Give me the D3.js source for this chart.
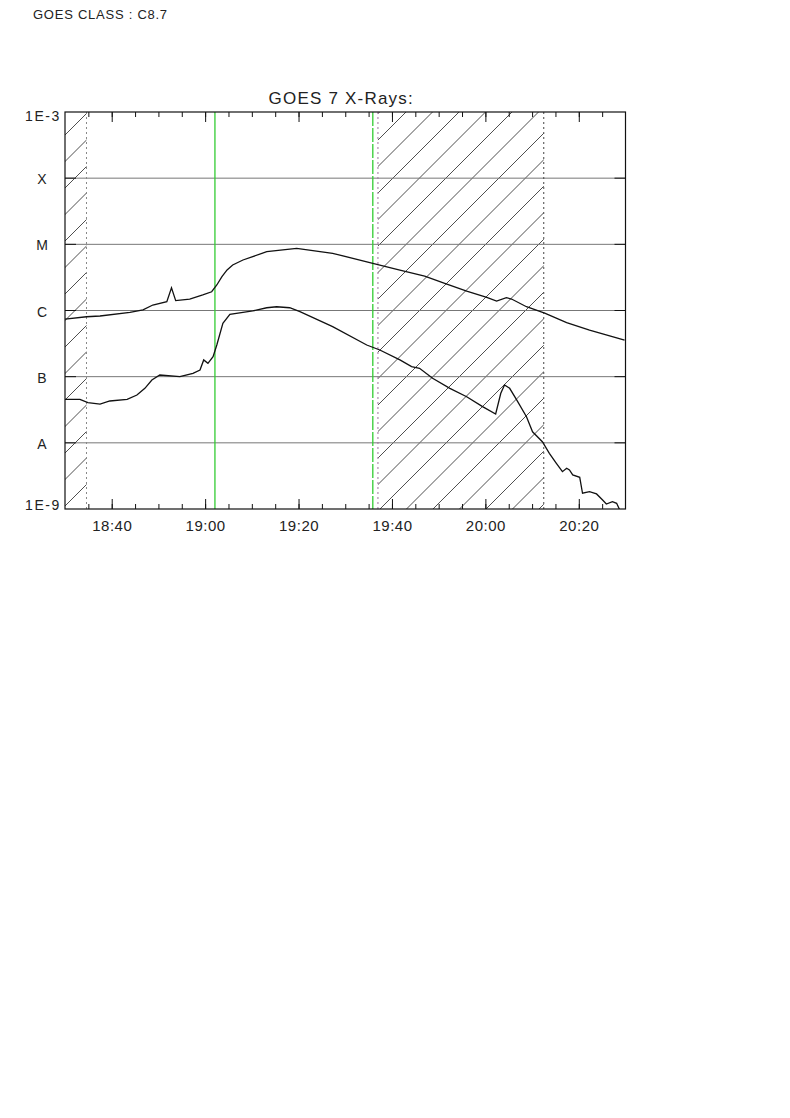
<!DOCTYPE html>
<html><head><meta charset="utf-8">
<script src="https://cdn.jsdelivr.net/npm/d3@7"></script>
<style>
body{margin:0;background:#fff;}
svg text{font-family:"Liberation Sans",Arial,sans-serif;fill:#222;}
</style></head>
<body><svg id="c" width="790" height="1118"></svg>
<script>
// ---- data ----
const chartTitle = "GOES 7 X-Rays:";
const classLabel = "GOES CLASS : C8.7";
// minutes after 18:30 and flux (W/m^2), long channel (1-8 A)
const longMinutes = [0,4.6,7.5,13.9,16.7,18.8,21.8,22.8,23.7,26.7,29.5,31.4,32.5,33.6,34.7,35.9,38.1,43.2,49.6,57.3,65.9,71.7,77.0,81.3,86.0,90.3,92.4,94.5,95.6,98.8,102.7,107.4,112.3,119.8];
const longFlux = [7.4e-7,8.05e-7,8.26e-7,9.4e-7,1.02e-6,1.21e-6,1.36e-6,2.21e-6,1.41e-6,1.49e-6,1.72e-6,1.92e-6,2.43e-6,3.24e-6,4.1e-6,4.87e-6,5.8e-6,7.74e-6,8.7e-6,7.32e-6,5.17e-6,4.09e-6,3.32e-6,2.58e-6,1.97e-6,1.58e-6,1.39e-6,1.56e-6,1.49e-6,1.14e-6,9.1e-7,6.55e-7,5.07e-7,3.58e-7];
// short channel (0.5-4 A)
const shortMinutes = [0,3.2,4.9,7.5,9.6,13.3,15.4,17.1,18.6,20.3,24.6,27.4,28.9,29.7,30.6,31.7,32.5,33.8,35.3,38.1,40.2,43.2,45.3,48.1,50.3,57.3,64.6,67.4,71.7,74.2,75.9,78.7,82.4,86.0,89.4,92.2,93.3,94.1,95.2,96.7,98.8,100.1,102.2,103.7,105.2,106.5,107.4,108.0,108.7,110.2,110.8,112.3,113.8,115.1,115.9,117.2,118.1,118.7];
const shortFlux = [4.55e-8,4.55e-8,4.05e-8,3.86e-8,4.29e-8,4.55e-8,5.28e-8,6.67e-8,8.9e-8,1.06e-7,1.0e-7,1.12e-7,1.26e-7,1.79e-7,1.59e-7,2.0e-7,3.01e-7,6.41e-7,8.77e-7,9.4e-7,9.84e-7,1.10e-6,1.14e-6,1.10e-6,9.6e-7,5.69e-7,3.01e-7,2.53e-7,1.79e-7,1.42e-7,1.34e-7,9.45e-8,6.67e-8,4.98e-8,3.52e-8,2.73e-8,5.61e-8,7.48e-8,6.67e-8,4.45e-8,2.48e-8,1.47e-8,1.04e-8,6.95e-9,4.91e-9,3.67e-9,4.12e-9,3.89e-9,3.27e-9,3.01e-9,1.73e-9,1.83e-9,1.69e-9,1.37e-9,1.19e-9,1.29e-9,1.22e-9,9.9e-10];
const yTickValues = [1e-9,1e-8,1e-7,1e-6,1e-5,1e-4,1e-3];
const yTickLabels = ["1E-9","A","B","C","M","X","1E-3"];
// shaded (hatched) intervals, minutes after 18:30
const hatchIntervals = [[0,4.6],[67.0,102.5]];
const nightEdge = 4.6, flareStart = 32.1, flareEnd = 65.9, dataGapStart = 67.0, dataGapEnd = 102.5;

// ---- layout ----
const svg = d3.select("#c");
const L = 65, R = 625.5, T = 112, B = 509;
const base = new Date(Date.UTC(1990,0,1,18,30));
const toDate = m => new Date(base.getTime() + m*60000);
const x = d3.scaleUtc().domain([toDate(0), toDate(120)]).range([L, R]);
const y = d3.scaleLog().domain([1e-9, 1e-3]).range([B, T]);

svg.append("text").attr("x",33).attr("y",19).attr("font-size",13).attr("letter-spacing",0.75).text(classLabel);
svg.append("text").attr("x",(L+R)/2-4).attr("y",104).attr("text-anchor","middle").attr("font-size",17).attr("letter-spacing",1.2).text(chartTitle);

svg.append("defs").append("clipPath").attr("id","plotclip").append("rect")
  .attr("x",L).attr("y",T).attr("width",R-L).attr("height",B-T);

// hatching
const hatch = svg.append("g").attr("clip-path","url(#plotclip)");
hatchIntervals.forEach((iv,i)=>{
  const x0 = x(toDate(iv[0])), x1 = x(toDate(iv[1]));
  const cid = "hc"+i;
  svg.select("defs").append("clipPath").attr("id",cid).append("rect")
    .attr("x",x0).attr("y",T).attr("width",x1-x0).attr("height",B-T);
  const g = hatch.append("g").attr("clip-path",`url(#${cid})`);
  for(let c=200-26.5*20; c<1400; c+=26.5){
    if (c < x0+T-30 || c > x1+B+30) continue;
    g.append("line").attr("x1",x0-5).attr("y1",c-(x0-5)).attr("x2",x1+5).attr("y2",c-(x1+5))
      .attr("stroke","#222").attr("stroke-width",0.8);
  }
});

// gridlines
svg.append("g").selectAll("line").data(yTickValues.slice(1,-1)).join("line")
  .attr("x1",L).attr("x2",R).attr("y1",d=>y(d)).attr("y2",d=>y(d))
  .attr("stroke","#777").attr("stroke-width",1);
// y ticks inward on both sides
svg.append("g").selectAll("line").data(yTickValues.slice(1,-1)).join("line")
  .attr("x1",L).attr("x2",L+11).attr("y1",d=>y(d)).attr("y2",d=>y(d)).attr("stroke","#111");
svg.append("g").selectAll("line").data(yTickValues.slice(1,-1)).join("line")
  .attr("x1",R-11).attr("x2",R).attr("y1",d=>y(d)).attr("y2",d=>y(d)).attr("stroke","#111");

// vertical markers
const vline = (m, color, dash, w) => svg.append("line")
  .attr("x1",x(toDate(m))).attr("x2",x(toDate(m))).attr("y1",T).attr("y2",B)
  .attr("stroke",color).attr("stroke-width",w||1).attr("stroke-dasharray",dash||null);
vline(nightEdge,"#888","2,3");
vline(flareStart,"#33cc33",null,1.3);
vline(flareEnd,"#33cc33","14,2",1.3);
vline(dataGapStart,"#a070a0","2,3");
vline(dataGapEnd,"#444","2,3");

// curves
const line = d3.line().x(d=>x(toDate(d[0]))).y(d=>y(d[1]));
const g2 = svg.append("g").attr("clip-path","url(#plotclip)");
g2.append("path").datum(d3.zip(longMinutes,longFlux)).attr("d",line)
  .attr("fill","none").attr("stroke","#111").attr("stroke-width",1.3);
g2.append("path").datum(d3.zip(shortMinutes,shortFlux)).attr("d",line)
  .attr("fill","none").attr("stroke","#111").attr("stroke-width",1.3);

// frame
svg.append("rect").attr("x",L).attr("y",T).attr("width",R-L).attr("height",B-T)
  .attr("fill","none").attr("stroke","#111").attr("stroke-width",1.2);

// x ticks (bottom & top, inward)
const major = x.ticks(d3.utcMinute.every(20)).filter(d=>d>x.domain()[0]&&d<x.domain()[1]);
const minor = x.ticks(d3.utcMinute.every(5)).filter(d=>d>x.domain()[0]&&d<x.domain()[1]);
const gb = svg.append("g").attr("transform",`translate(0,${B})`).call(d3.axisBottom(x).tickValues(minor).tickSize(-5).tickFormat(""));
const gt = svg.append("g").attr("transform",`translate(0,${T})`).call(d3.axisTop(x).tickValues(minor).tickSize(-5).tickFormat(""));
const gbM = svg.append("g").attr("transform",`translate(0,${B})`).call(d3.axisBottom(x).tickValues(major).tickSize(-10).tickPadding(11).tickFormat(d3.utcFormat("%H:%M")));
const gtM = svg.append("g").attr("transform",`translate(0,${T})`).call(d3.axisTop(x).tickValues(major).tickSize(-10).tickFormat(""));
[gb,gt,gbM,gtM].forEach(g=>{g.select(".domain").remove(); g.selectAll("line").attr("stroke","#111");});
gbM.selectAll("text").attr("font-size",15).attr("fill","#222").attr("font-family","Liberation Sans, Arial, sans-serif").attr("letter-spacing",0.5);

// y labels
svg.append("g").selectAll("text").data(yTickValues).join("text")
  .attr("x",(d,i)=> (i===0||i===yTickValues.length-1) ? 61 : 42)
  .attr("text-anchor",(d,i)=> (i===0||i===yTickValues.length-1) ? "end" : "middle")
  .attr("y",(d,i)=> y(d) + (i===0 ? 1 : (i===yTickValues.length-1 ? 9 : 6)))
  .attr("font-size",14).attr("letter-spacing",(d,i)=> (i===0||i===yTickValues.length-1) ? 1.6 : 0)
  .text((d,i)=>yTickLabels[i]);
</script></body></html>
